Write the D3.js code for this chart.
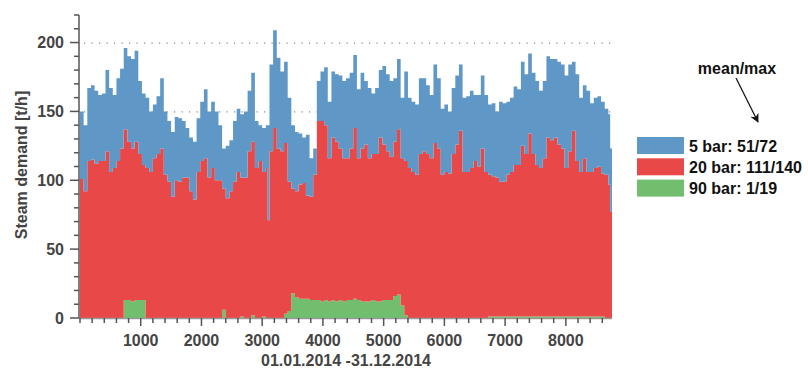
<!DOCTYPE html>
<html>
<head>
<meta charset="utf-8">
<script src="https://cdn.jsdelivr.net/npm/d3@7/dist/d3.min.js"></script>
<style>
  body { margin: 0; background: #fff; }
  svg { display: block; font-family: "Liberation Sans", Arial, sans-serif; }
</style>
</head>
<body>
<div id="chart"></div>
<script>
// hour of year
var hours = [0,60,120,180,240,300,360,420,480,540,600,660,720,780,840,900,960,1020,1080,1140,
  1200,1260,1320,1380,1440,1500,1560,1620,1680,1740,1800,1860,1920,1980,2040,2100,2160,2220,2280,2340,
  2400,2460,2520,2580,2640,2700,2760,2820,2880,2940,3000,3060,3090,3120,3180,3240,3300,3360,3420,3480,
  3540,3600,3660,3720,3780,3840,3900,3960,4020,4080,4140,4200,4260,4320,4380,4440,4500,4560,4620,4680,
  4740,4800,4860,4920,4980,5040,5100,5160,5220,5280,5340,5400,5460,5520,5580,5640,5700,5760,5820,5880,
  5940,6000,6060,6120,6180,6240,6300,6360,6420,6480,6540,6600,6660,6720,6780,6840,6900,6960,7020,7080,
  7140,7200,7260,7320,7380,7440,7500,7560,7620,7680,7740,7800,7860,7920,7980,8040,8100,8160,8220,8280,
  8340,8400,8460,8520,8580,8640,8700,8730,8760];

// steam demand per pressure level [t/h]
var bar5 = [49,48,53,54,53,48,49,59,61,53,60,58,59,62,65,66,53,52,51,44,
  39,42,51,46,44,47,46,46,41,36,39,42,39,43,50,48,48,50,40,29,
  38,37,44,46,46,48,44,50,34,26,32,31,69,63,71,66,58,59,61,46,
  43,37,33,44,28,19,29,36,42,41,48,49,53,56,58,55,53,50,55,46,
  51,44,48,49,57,56,55,46,51,44,65,51,51,51,55,53,50,46,57,51,
  48,49,45,48,50,48,54,55,56,48,52,53,56,51,53,48,58,57,53,54,
  57,55,61,58,58,59,61,56,56,59,59,57,60,61,67,63,50,63,54,53,
  59,50,51,51,52,48,51,46,46];
var bar20 = [101,92,114,115,112,114,114,121,106,109,114,123,124,115,111,115,106,98,109,106,
  116,119,123,104,99,88,100,99,102,102,92,86,106,114,116,102,109,100,100,88,
  87,92,99,106,101,102,121,126,109,114,105,109,71,121,138,123,121,124,94,76,
  77,83,84,75,75,91,130,131,127,104,118,116,110,104,103,110,124,103,111,114,
  104,106,107,119,113,108,104,112,120,107,112,109,106,104,119,121,119,116,127,123,
  104,106,105,119,126,136,106,106,109,114,110,123,106,103,102,101,98,98,103,105,
  110,110,124,118,133,118,110,108,115,130,128,130,125,122,108,120,135,113,105,115,
  105,105,108,109,104,104,97,77,77];
var bar90 = [0,0,0,0,0,0,0,0,0,0,0,0,13,13,12,13,13,13,0,0,
  0,0,0,0,0,0,0,0,0,0,0,0,0,0,0,0,0,0,0,6,
  0,0,0,0,1,0,0,2,0,0,1,0,0,0,0,0,0,3,5,18,
  15,14,14,14,13,13,13,12,13,12,13,12,13,12,13,13,14,13,12,12,
  12,13,12,12,13,13,13,16,17,9,2,0,0,0,0,0,0,0,0,0,
  0,0,0,0,0,0,0,0,0,0,0,0,0,1,1,1,1,1,1,1,
  1,1,1,1,1,1,1,1,1,1,1,1,1,1,1,1,1,1,1,1,
  1,1,1,1,1,0,0,0,0];

var seriesKeys = ["bar90", "bar20", "bar5"];
var seriesColors = {bar5: "#5f98c6", bar20: "#e94849", bar90: "#71bf6e"};
var legendLabels = ["5 bar: 51/72", "20 bar: 111/140", "90 bar: 1/19"];
var legendKeys = ["bar5", "bar20", "bar90"];

var xTicks = [1000,2000,3000,4000,5000,6000,7000,8000];
var yTicks = [0,50,100,150,200];

var W = 808, H = 371;
var plotLeft = 80, plotRight = 612, plotTop = 15, plotBottom = 318;

var rows = hours.map(function (h, i) {
    return {hour: h, bar5: bar5[i], bar20: bar20[i], bar90: bar90[i]};
});

var x = d3.scaleLinear().domain([0, 8760]).range([plotLeft, plotRight]);
var y = d3.scaleLinear().domain([0, 220]).range([plotBottom, plotTop]);

var svg = d3.select("#chart").append("svg")
    .attr("width", W)
    .attr("height", H);

// dotted grid
svg.append("g")
    .selectAll("line")
    .data([50, 100, 150, 200])
    .enter().append("line")
    .attr("x1", plotLeft + 4)
    .attr("x2", plotRight)
    .attr("y1", function (d) { return y(d) + 0.5; })
    .attr("y2", function (d) { return y(d) + 0.5; })
    .attr("stroke", "#888")
    .attr("stroke-width", 1.2)
    .attr("stroke-dasharray", "1.2,6.3");

var stack = d3.stack().keys(seriesKeys);
var layers = stack(rows);

var area = d3.area()
    .x(function (d) { return x(d.data.hour); })
    .y0(function (d) { return y(d[0]); })
    .y1(function (d) { return y(d[1]); })
    .curve(d3.curveStepAfter);

svg.append("g")
    .selectAll("path")
    .data(layers)
    .enter().append("path")
    .attr("fill", function (d) { return seriesColors[d.key]; })
    .attr("stroke", "none")
    .attr("d", area);

// y axis
var yMinor = d3.range(0, 221, 10);
var yAxisG = svg.append("g").attr("transform", "translate(" + (plotLeft - 1) + ",0)");
yAxisG.append("line")
    .attr("x1", 0).attr("x2", 0)
    .attr("y1", y(220)).attr("y2", y(0))
    .attr("stroke", "#555").attr("stroke-width", 1.5);
yAxisG.selectAll("line.minor")
    .data(yMinor)
    .enter().append("line")
    .attr("class", "minor")
    .attr("x1", function (d) { return yTicks.indexOf(d) >= 0 ? -9 : -5; })
    .attr("x2", 0)
    .attr("y1", function (d) { return y(d); })
    .attr("y2", function (d) { return y(d); })
    .attr("stroke", "#555").attr("stroke-width", 1.5);
yAxisG.selectAll("text")
    .data(yTicks)
    .enter().append("text")
    .attr("x", -15)
    .attr("y", function (d) { return y(d); })
    .attr("dy", "0.36em")
    .attr("text-anchor", "end")
    .attr("font-size", "16px")
    .attr("font-weight", "bold")
    .attr("fill", "#444")
    .text(function (d) { return d; });

// x axis
var xMinor = d3.range(0, 8761, 200);
var xAxisG = svg.append("g").attr("transform", "translate(0," + plotBottom + ")");
xAxisG.append("line")
    .attr("x1", plotLeft - 1).attr("x2", plotRight)
    .attr("y1", 0.5).attr("y2", 0.5)
    .attr("stroke", "#999").attr("stroke-width", 1.5);
xAxisG.selectAll("line.minor")
    .data(xMinor)
    .enter().append("line")
    .attr("class", "minor")
    .attr("x1", function (d) { return x(d); })
    .attr("x2", function (d) { return x(d); })
    .attr("y1", 0)
    .attr("y2", function (d) { return d % 1000 === 0 && d > 0 ? 8 : 5; })
    .attr("stroke", "#555").attr("stroke-width", 1.5);
xAxisG.selectAll("text")
    .data(xTicks)
    .enter().append("text")
    .attr("x", function (d) { return x(d); })
    .attr("y", 28)
    .attr("text-anchor", "middle")
    .attr("font-size", "16px")
    .attr("font-weight", "bold")
    .attr("fill", "#444")
    .text(function (d) { return d; });

// axis titles
svg.append("text")
    .attr("x", 346)
    .attr("y", 366)
    .attr("text-anchor", "middle")
    .attr("font-size", "16px")
    .attr("font-weight", "bold")
    .attr("fill", "#444")
    .text("01.01.2014 -31.12.2014");

svg.append("text")
    .attr("transform", "translate(27,165) rotate(-90)")
    .attr("text-anchor", "middle")
    .attr("font-size", "16px")
    .attr("font-weight", "bold")
    .attr("fill", "#444")
    .text("Steam demand [t/h]");

// legend
var legend = svg.append("g").attr("transform", "translate(637,137)");
legend.selectAll("rect")
    .data(legendKeys)
    .enter().append("rect")
    .attr("x", 0)
    .attr("y", function (d, i) { return i * 21.3; })
    .attr("width", 47)
    .attr("height", 17)
    .attr("fill", function (d) { return seriesColors[d]; });
legend.selectAll("text")
    .data(legendLabels)
    .enter().append("text")
    .attr("x", 52)
    .attr("y", function (d, i) { return i * 21.3 + 14.5; })
    .attr("font-size", "16px")
    .attr("font-weight", "bold")
    .attr("fill", "#111")
    .text(function (d) { return d; });

// mean/max annotation
svg.append("defs").append("marker")
    .attr("id", "arrow")
    .attr("viewBox", "0 0 10 10")
    .attr("refX", 9).attr("refY", 5)
    .attr("markerWidth", 9).attr("markerHeight", 9)
    .attr("markerUnits", "userSpaceOnUse")
    .attr("orient", "auto")
    .append("path")
    .attr("d", "M0,0 L10,5 L0,10 L3,5 Z")
    .attr("fill", "#111");

svg.append("text")
    .attr("x", 737)
    .attr("y", 74)
    .attr("text-anchor", "middle")
    .attr("font-size", "16px")
    .attr("font-weight", "bold")
    .attr("fill", "#111")
    .text("mean/max");

svg.append("line")
    .attr("x1", 736).attr("y1", 78)
    .attr("x2", 758).attr("y2", 122)
    .attr("stroke", "#111")
    .attr("stroke-width", 1.2)
    .attr("marker-end", "url(#arrow)");
</script>
</body>
</html>
